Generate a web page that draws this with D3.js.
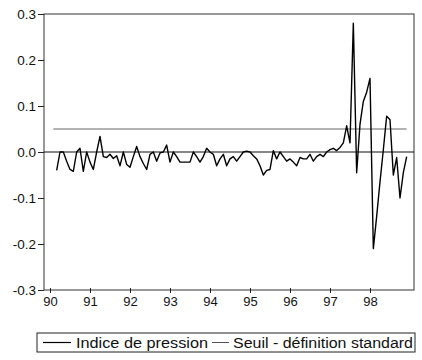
<!DOCTYPE html>
<html>
<head>
<meta charset="utf-8">
<script src="https://cdn.jsdelivr.net/npm/d3@7/dist/d3.min.js"></script>
<style>
  html, body { margin: 0; padding: 0; background: #fff; }
  svg { display: block; font-family: "Liberation Sans", Arial, sans-serif; }
</style>
</head>
<body>
<svg id="chart" width="422" height="360"></svg>
<script>
// ---- data ----
const startYear = 1990;
const startMonthIndex = 2;        // March 1990 (0 = January)
const thresholdStartMonthIndex = 1;
const thresholdEndMonthIndex = 107;
const threshold = 0.05;
const pressionIndex = [
  -0.040, 0.000, 0.000, -0.020, -0.038, -0.042, 0.000, 0.008, -0.042, 0.000,
  -0.022, -0.038, 0.000, 0.034, -0.010, -0.012, -0.005, -0.014, -0.008, -0.030,
  0.000, -0.027, -0.033, -0.010, 0.012, -0.010, -0.025, -0.038, -0.005, 0.000,
  -0.020, -0.002, 0.000, 0.015, -0.022, 0.000, -0.010, -0.022, -0.022, -0.022,
  -0.022, 0.000, -0.010, -0.022, -0.010, 0.008, 0.000, -0.005, -0.030, -0.015,
  -0.005, -0.030, -0.015, -0.010, -0.020, -0.010, 0.000, 0.002, 0.000, -0.008,
  -0.015, -0.030, -0.050, -0.040, -0.038, 0.003, -0.015, 0.000, -0.010, -0.020,
  -0.015, -0.022, -0.030, -0.012, -0.015, -0.015, -0.005, -0.020, -0.010, -0.005,
  -0.010, 0.000, 0.005, 0.008, 0.003, 0.010, 0.020, 0.057, 0.020, 0.280,
  -0.045, 0.060, 0.110, 0.130, 0.160, -0.210, -0.140, -0.065, 0.005, 0.078,
  0.070, -0.050, -0.012, -0.100, -0.045, -0.010
];
const yTicks = [-0.3, -0.2, -0.1, 0.0, 0.1, 0.2, 0.3];
const xTicks = [90, 91, 92, 93, 94, 95, 96, 97, 98];
const legendLabels = ["Indice de pression", "Seuil - définition standard"];

// ---- layout ----
const svg = d3.select("#chart");
const x = d3.scaleLinear().domain([89.85, 99.1]).range([44, 414]);
const y = d3.scaleLinear().domain([-0.3, 0.3]).range([290, 14]);
const toYear = m => (startYear - 1900) + m / 12;

// frame
svg.append("rect")
  .attr("x", x.range()[0]).attr("y", y.range()[1])
  .attr("width", x.range()[1] - x.range()[0])
  .attr("height", y.range()[0] - y.range()[1])
  .attr("fill", "none").attr("stroke", "#333").attr("stroke-width", 1);

// y axis
const yAxis = d3.axisLeft(y).tickValues(yTicks).tickSize(6).tickPadding(2)
  .tickFormat(d => d.toFixed(1));
const gy = svg.append("g").attr("transform", `translate(${x.range()[0]},0)`).call(yAxis);
gy.select(".domain").remove();
gy.selectAll("line").attr("stroke", "#222");
gy.selectAll("text").attr("font-size", "13.5px").attr("fill", "#111")
  .attr("font-family", "'Liberation Sans', Arial, sans-serif");

// x axis
const xAxis = d3.axisBottom(x).tickValues(xTicks).tickSize(3).tickPadding(4)
  .tickFormat(d => String(d));
const gx = svg.append("g").attr("transform", `translate(0,${y.range()[0]})`).call(xAxis);
gx.select(".domain").remove();
gx.selectAll("line").attr("stroke", "#222").attr("y1", -2);
gx.selectAll("text").attr("font-size", "13px").attr("fill", "#111")
  .attr("font-family", "'Liberation Sans', Arial, sans-serif");

// zero line
svg.append("line")
  .attr("x1", x.range()[0]).attr("x2", x.range()[1])
  .attr("y1", y(0)).attr("y2", y(0))
  .attr("stroke", "#111").attr("stroke-width", 1.2);

// threshold line
svg.append("line")
  .attr("x1", x(toYear(thresholdStartMonthIndex)))
  .attr("x2", x(toYear(thresholdEndMonthIndex)))
  .attr("y1", y(threshold)).attr("y2", y(threshold))
  .attr("stroke", "#666").attr("stroke-width", 1);

// series
const line = d3.line()
  .x((d, i) => x(toYear(startMonthIndex + i)))
  .y(d => y(d));
svg.append("path").datum(pressionIndex)
  .attr("d", line).attr("fill", "none")
  .attr("stroke", "#000").attr("stroke-width", 1.4)
  .attr("stroke-linejoin", "round");

// legend
const lg = svg.append("g");
lg.append("rect").attr("x", 37).attr("y", 333).attr("width", 378).attr("height", 19)
  .attr("fill", "none").attr("stroke", "#222").attr("stroke-width", 1);
lg.append("line").attr("x1", 43).attr("x2", 71).attr("y1", 342.5).attr("y2", 342.5)
  .attr("stroke", "#000").attr("stroke-width", 1.2);
lg.append("text").attr("x", 76).attr("y", 347.5).attr("font-size", "14px")
  .attr("fill", "#111").attr("textLength", 132).attr("lengthAdjust", "spacingAndGlyphs")
  .text(legendLabels[0]);
lg.append("line").attr("x1", 212).attr("x2", 229).attr("y1", 342.5).attr("y2", 342.5)
  .attr("stroke", "#555").attr("stroke-width", 1);
lg.append("text").attr("x", 233).attr("y", 347.5).attr("font-size", "14px")
  .attr("fill", "#111").attr("textLength", 180).attr("lengthAdjust", "spacingAndGlyphs")
  .text(legendLabels[1]);
</script>
</body>
</html>
